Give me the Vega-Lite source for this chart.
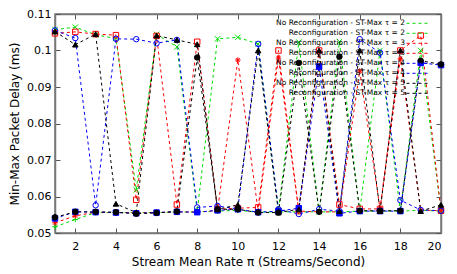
{
  "$schema": "https://vega.github.io/schema/vega-lite/v6.json",
  "width": 386,
  "height": 219,
  "autosize": {"type": "none"},
  "padding": {"left": 55, "top": 14, "right": 16, "bottom": 41},
  "config": {
    "font": "DejaVu Sans",
    "view": {"stroke": "#777777", "strokeWidth": 1.5},
    "axis": {"grid": false, "domainColor": "#777777", "domainWidth": 1.5, "tickColor": "#555555", "tickSize": -5, "labelPadding": 9, "labelFontSize": 11, "titleFontSize": 12, "titleFontWeight": "normal", "labelColor": "#000000", "titleColor": "#000000"},
    "legend": {"orient": "none", "title": null, "padding": 0, "clipHeight": 10, "rowPadding": 0, "labelFontSize": 7.5, "symbolStrokeWidth": 1}
  },
  "data": {"values": [
    {"x":1,"s":"NR2","y":0.0517},{"x":1,"s":"R2","y":0.1057},{"x":1,"s":"NR3","y":0.0528},{"x":1,"s":"R3","y":0.1047},{"x":1,"s":"NR4","y":0.0540},{"x":1,"s":"R4","y":0.1055},{"x":1,"s":"NR5","y":0.0543},{"x":1,"s":"R5","y":0.1052},
    {"x":2,"s":"NR2","y":0.0537},{"x":2,"s":"R2","y":0.1064},{"x":2,"s":"NR3","y":0.0547},{"x":2,"s":"R3","y":0.1051},{"x":2,"s":"NR4","y":0.0558},{"x":2,"s":"R4","y":0.1034},{"x":2,"s":"NR5","y":0.0558},{"x":2,"s":"R5","y":0.1016},
    {"x":3,"s":"NR2","y":0.0556},{"x":3,"s":"R2","y":0.1043},{"x":3,"s":"NR3","y":0.0557},{"x":3,"s":"R3","y":0.1045},{"x":3,"s":"NR4","y":0.0557},{"x":3,"s":"R4","y":0.0576},{"x":3,"s":"NR5","y":0.0558},{"x":3,"s":"R5","y":0.1045},
    {"x":4,"s":"NR2","y":0.0556},{"x":4,"s":"R2","y":0.1033},{"x":4,"s":"NR3","y":0.0556},{"x":4,"s":"R3","y":0.1042},{"x":4,"s":"NR4","y":0.0556},{"x":4,"s":"R4","y":0.1032},{"x":4,"s":"NR5","y":0.0557},{"x":4,"s":"R5","y":0.0580},
    {"x":5,"s":"NR2","y":0.0556},{"x":5,"s":"R2","y":0.0618},{"x":5,"s":"NR3","y":0.0556},{"x":5,"s":"R3","y":0.0591},{"x":5,"s":"NR4","y":0.0554},{"x":5,"s":"R4","y":0.1031},{"x":5,"s":"NR5","y":0.0553},{"x":5,"s":"R5","y":0.0556},
    {"x":6,"s":"NR2","y":0.0556},{"x":6,"s":"R2","y":0.1044},{"x":6,"s":"NR3","y":0.0556},{"x":6,"s":"R3","y":0.1040},{"x":6,"s":"NR4","y":0.0556},{"x":6,"s":"R4","y":0.1020},{"x":6,"s":"NR5","y":0.0555},{"x":6,"s":"R5","y":0.1041},
    {"x":7,"s":"NR2","y":0.0557},{"x":7,"s":"R2","y":0.1010},{"x":7,"s":"NR3","y":0.0558},{"x":7,"s":"R3","y":0.0578},{"x":7,"s":"NR4","y":0.0558},{"x":7,"s":"R4","y":0.1029},{"x":7,"s":"NR5","y":0.0559},{"x":7,"s":"R5","y":0.1029},
    {"x":8,"s":"NR2","y":0.0558},{"x":8,"s":"R2","y":0.0560},{"x":8,"s":"NR3","y":0.0557},{"x":8,"s":"R3","y":0.1024},{"x":8,"s":"NR4","y":0.0557},{"x":8,"s":"R4","y":0.0570},{"x":8,"s":"NR5","y":0.0981},{"x":8,"s":"R5","y":0.1017},
    {"x":9,"s":"NR2","y":0.0560},{"x":9,"s":"R2","y":0.1032},{"x":9,"s":"NR3","y":0.0562},{"x":9,"s":"R3","y":0.0565},{"x":9,"s":"NR4","y":0.0562},{"x":9,"s":"R4","y":0.0574},{"x":9,"s":"NR5","y":0.0565},{"x":9,"s":"R5","y":0.0565},
    {"x":10,"s":"NR2","y":0.0562},{"x":10,"s":"R2","y":0.1036},{"x":10,"s":"NR3","y":0.0974},{"x":10,"s":"R3","y":0.0568},{"x":10,"s":"NR4","y":0.0565},{"x":10,"s":"R4","y":0.0566},{"x":10,"s":"NR5","y":0.0565},{"x":10,"s":"R5","y":0.0577},
    {"x":11,"s":"NR2","y":0.0557},{"x":11,"s":"R2","y":0.1018},{"x":11,"s":"NR3","y":0.0560},{"x":11,"s":"R3","y":0.0570},{"x":11,"s":"NR4","y":0.0557},{"x":11,"s":"R4","y":0.1018},{"x":11,"s":"NR5","y":0.0556},{"x":11,"s":"R5","y":0.1000},
    {"x":12,"s":"NR2","y":0.0558},{"x":12,"s":"R2","y":0.0560},{"x":12,"s":"NR3","y":0.0979},{"x":12,"s":"R3","y":0.1000},{"x":12,"s":"NR4","y":0.0560},{"x":12,"s":"R4","y":0.0565},{"x":12,"s":"NR5","y":0.0556},{"x":12,"s":"R5","y":0.0556},
    {"x":13,"s":"NR2","y":0.0558},{"x":13,"s":"R2","y":0.1023},{"x":13,"s":"NR3","y":0.0560},{"x":13,"s":"R3","y":0.0560},{"x":13,"s":"NR4","y":0.0568},{"x":13,"s":"R4","y":0.0552},{"x":13,"s":"NR5","y":0.0966},{"x":13,"s":"R5","y":0.0565},
    {"x":14,"s":"NR2","y":0.0558},{"x":14,"s":"R2","y":0.0558},{"x":14,"s":"NR3","y":0.0558},{"x":14,"s":"R3","y":0.1000},{"x":14,"s":"NR4","y":0.0956},{"x":14,"s":"R4","y":0.0565},{"x":14,"s":"NR5","y":0.0558},{"x":14,"s":"R5","y":0.1000},
    {"x":15,"s":"NR2","y":0.0558},{"x":15,"s":"R2","y":0.1024},{"x":15,"s":"NR3","y":0.0558},{"x":15,"s":"R3","y":0.0578},{"x":15,"s":"NR4","y":0.0554},{"x":15,"s":"R4","y":0.0560},{"x":15,"s":"NR5","y":0.0983},{"x":15,"s":"R5","y":0.0560},
    {"x":16,"s":"NR2","y":0.0560},{"x":16,"s":"R2","y":0.0560},{"x":16,"s":"NR3","y":0.0944},{"x":16,"s":"R3","y":0.0566},{"x":16,"s":"NR4","y":0.0560},{"x":16,"s":"R4","y":0.1031},{"x":16,"s":"NR5","y":0.0561},{"x":16,"s":"R5","y":0.1000},
    {"x":17,"s":"NR2","y":0.0560},{"x":17,"s":"R2","y":0.1000},{"x":17,"s":"NR3","y":0.0566},{"x":17,"s":"R3","y":0.0566},{"x":17,"s":"NR4","y":0.0560},{"x":17,"s":"R4","y":0.0994},{"x":17,"s":"NR5","y":0.0561},{"x":17,"s":"R5","y":0.0560},
    {"x":18,"s":"NR2","y":0.0560},{"x":18,"s":"R2","y":0.0560},{"x":18,"s":"NR3","y":0.0977},{"x":18,"s":"R3","y":0.1000},{"x":18,"s":"NR4","y":0.0560},{"x":18,"s":"R4","y":0.0590},{"x":18,"s":"NR5","y":0.0561},{"x":18,"s":"R5","y":0.1000},
    {"x":19,"s":"NR2","y":0.0562},{"x":19,"s":"R2","y":0.1000},{"x":19,"s":"NR3","y":0.0563},{"x":19,"s":"R3","y":0.1041},{"x":19,"s":"NR4","y":0.0966},{"x":19,"s":"R4","y":0.0563},{"x":19,"s":"NR5","y":0.0972},{"x":19,"s":"R5","y":0.0560},
    {"x":20,"s":"NR2","y":0.0560},{"x":20,"s":"R2","y":0.0560},{"x":20,"s":"NR3","y":0.0561},{"x":20,"s":"R3","y":0.0561},{"x":20,"s":"NR4","y":0.0960},{"x":20,"s":"R4","y":0.0561},{"x":20,"s":"NR5","y":0.0962},{"x":20,"s":"R5","y":0.0577}
  ]},
  "transform": [
    {"calculate": "{'NR2':'No Reconfiguration - ST-Max τ = 2','R2':'Reconfiguration - ST-Max τ = 2','NR3':'No Reconfiguration - ST-Max τ = 3','R3':'Reconfiguration - ST-Max τ = 3','NR4':'No Reconfiguration - ST-Max τ = 4','R4':'Reconfiguration - ST-Max τ = 4','NR5':'No Reconfiguration - ST-Max τ = 5','R5':'Reconfiguration - ST-Max τ = 5'}[datum.s]", "as": "series"}
  ],
  "layer": [
    {
      "mark": {"type": "line", "strokeWidth": 1, "strokeDash": [3, 3]},
      "encoding": {
        "x": {"field": "x", "type": "quantitative", "scale": {"domain": [1, 20], "nice": false, "zero": false},
          "axis": {"values": [2,4,6,8,10,12,14,16,18,20], "title": "Stream Mean Rate π (Streams/Second)", "titlePadding": 5, "labelPadding": 12}},
        "y": {"field": "y", "type": "quantitative", "scale": {"domain": [0.05, 0.11], "nice": false, "zero": false},
          "axis": {"values": [0.05,0.06,0.07,0.08,0.09,0.1,0.11], "format": ".2~f", "title": "Min-Max Packet Delay (ms)", "titlePadding": 5}},
        "color": {"field": "series", "type": "nominal",
          "sort": ["No Reconfiguration - ST-Max τ = 2","Reconfiguration - ST-Max τ = 2","No Reconfiguration - ST-Max τ = 3","Reconfiguration - ST-Max τ = 3","No Reconfiguration - ST-Max τ = 4","Reconfiguration - ST-Max τ = 4","No Reconfiguration - ST-Max τ = 5","Reconfiguration - ST-Max τ = 5"],
          "scale": {"range": ["#00dd00","#00dd00","#ff0000","#ff0000","#0000ff","#0000ff","#000000","#000000"]},
          "legend": {"orient": "none", "legendX": 351, "legendY": 4.3, "symbolType": "stroke", "symbolSize": 576, "symbolDash": [3, 3], "labelExpr": "''"}}
      }
    },
    {
      "mark": {"type": "point", "size": 30, "strokeWidth": 1, "opacity": 1},
      "encoding": {
        "x": {"field": "x", "type": "quantitative", "axis": {"orient": "top", "values": [2,4,6,8,10,12,14,16,18,20], "labels": false, "title": null}},
        "y": {"field": "y", "type": "quantitative", "axis": {"orient": "right", "values": [0.05,0.06,0.07,0.08,0.09,0.1,0.11], "labels": false, "title": null}},
        "stroke": {"field": "series", "type": "nominal",
          "scale": {"domain": ["No Reconfiguration - ST-Max τ = 2","Reconfiguration - ST-Max τ = 2","No Reconfiguration - ST-Max τ = 3","Reconfiguration - ST-Max τ = 3","No Reconfiguration - ST-Max τ = 4","Reconfiguration - ST-Max τ = 4","No Reconfiguration - ST-Max τ = 5","Reconfiguration - ST-Max τ = 5"],
            "range": ["#00dd00","#00dd00","#ff0000","#ff0000","#0000ff","#0000ff","#000000","#000000"]},
          "legend": {"orient": "none", "legendX": 360.3, "legendY": 4.3, "labelAlign": "right", "labelOffset": -17.8, "symbolSize": 30}},
        "fill": {"field": "series", "type": "nominal",
          "scale": {"domain": ["No Reconfiguration - ST-Max τ = 2","Reconfiguration - ST-Max τ = 2","No Reconfiguration - ST-Max τ = 3","Reconfiguration - ST-Max τ = 3","No Reconfiguration - ST-Max τ = 4","Reconfiguration - ST-Max τ = 4","No Reconfiguration - ST-Max τ = 5","Reconfiguration - ST-Max τ = 5"],
            "range": ["transparent","transparent","transparent","transparent","#0000ff","transparent","#000000","#000000"]},
          "legend": {"orient": "none", "legendX": 360.3, "legendY": 4.3, "labelAlign": "right", "labelOffset": -17.8, "symbolSize": 30}},
        "shape": {"field": "series", "type": "nominal",
          "scale": {"domain": ["No Reconfiguration - ST-Max τ = 2","Reconfiguration - ST-Max τ = 2","No Reconfiguration - ST-Max τ = 3","Reconfiguration - ST-Max τ = 3","No Reconfiguration - ST-Max τ = 4","Reconfiguration - ST-Max τ = 4","No Reconfiguration - ST-Max τ = 5","Reconfiguration - ST-Max τ = 5"],
            "range": ["M-1,0H1M0,-1V1","M-1,-1L1,1M-1,1L1,-1","M-1,0H1M0,-1V1M-0.7,-0.7L0.7,0.7M-0.7,0.7L0.7,-0.7","square","square","circle","circle","triangle-up"]},
          "legend": {"orient": "none", "legendX": 360.3, "legendY": 4.3, "labelAlign": "right", "labelOffset": -17.8, "symbolSize": 30}}
      }
    }
  ],
  "resolve": {"axis": {"x": "independent", "y": "independent"}}
}
